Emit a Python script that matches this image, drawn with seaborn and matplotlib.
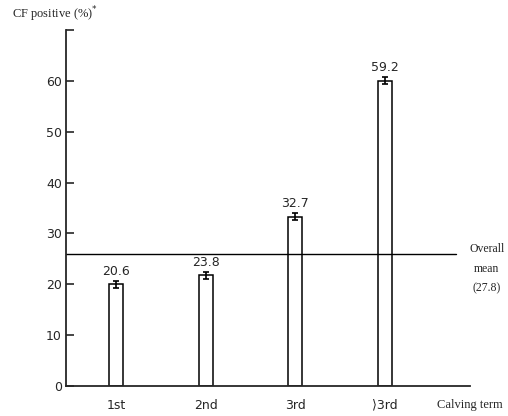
import matplotlib

matplotlib.use("Agg")
import matplotlib.pyplot as plt
import numpy as np
import pandas as pd
import seaborn as sns

terms = ["1st", "2nd", "3rd", "\u27e93rd"]
positive_pct = [20.0, 21.8, 33.3, 60.0]
pct_err = [0.7, 0.7, 0.7, 0.7]
value_labels = ["20.6", "23.8", "32.7", "59.2"]
overall_mean = 26.0
mean_label = "Overall\nmean\n(27.8)"
y_ticks = [0, 10, 20, 30, 40, 50, 60, 70]
y_ticklabels = ["0", "10", "20", "30", "40", "50", "60", ""]

df = pd.DataFrame({"term": terms, "pct": positive_pct})

sns.set_style("white")
plt.rcParams["font.family"] = ["Liberation Serif", "DejaVu Serif"]
mono = ["DejaVu Sans", "Noto Sans CJK JP"]

fig = plt.figure(figsize=(5.08, 4.16), dpi=100)
ax = fig.add_axes([0.130, 0.072, 0.795, 0.856])

sns.barplot(data=df, x="term", y="pct", ax=ax, width=0.16,
            color="white", edgecolor="black", linewidth=1.1)
x = np.arange(len(terms))
ax.errorbar(x, positive_pct, yerr=pct_err, fmt="none", ecolor="black",
            elinewidth=1.2, capsize=2.5, capthick=1.2)

for xi, v, lab in zip(x, positive_pct, value_labels):
    ax.text(xi, v + 1.3, lab, ha="center", va="bottom", fontsize=9,
            family=mono)

ax.plot([-0.56, 3.80], [overall_mean, overall_mean], color="black", lw=1.0)
ax.text(4.14, 23.0, mean_label, ha="center", va="center",
        fontsize=8.5, linespacing=1.85, clip_on=False)

ax.set_xlim(-0.56, 3.95)
ax.set_ylim(0, 70)
ax.set_yticks(y_ticks)
ax.set_yticklabels(y_ticklabels, fontsize=9, family=mono)
ax.tick_params(axis="y", direction="in", length=6, width=1.2, pad=3, left=True)
ax.tick_params(axis="x", length=0, pad=9, labelsize=9)
for lab in ax.get_xticklabels():
    lab.set_family(mono)
ax.set_xlabel("")
ax.set_ylabel("")
sns.despine(ax=ax)
ax.spines["left"].set_linewidth(1.3)
ax.spines["bottom"].set_linewidth(1.3)

fig.text(0.024, 0.965, "CF positive (%)$^{*}$", fontsize=9, va="center")
fig.text(0.99, 0.027, "Calving term", fontsize=9, ha="right", va="center")

fig.savefig("out.png", dpi=100)
